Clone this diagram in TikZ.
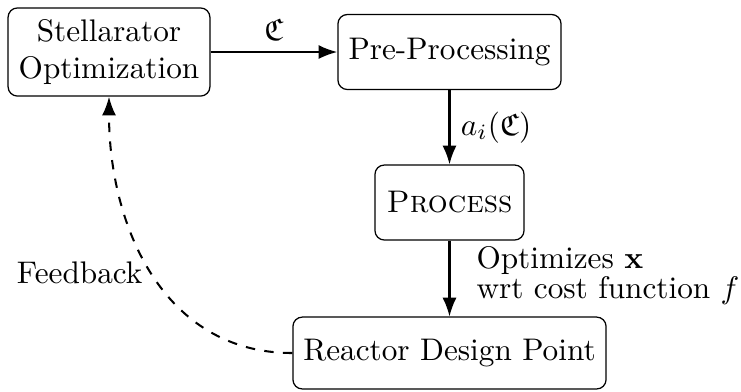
\documentclass[tikz,border=0pt]{standalone}
\usepackage{amsmath,amssymb}
\usetikzlibrary{arrows.meta}
\tikzset{
  block/.style={draw, thin, rounded corners=3pt, align=center, inner sep=3.33pt},
  flow/.style={line width=0.65pt, -{Latex[length=6pt,width=4.5pt]}},
  back/.style={line width=0.65pt, dashed, -{Latex[length=6pt,width=4.5pt]}},
}
\begin{document}
\begin{tikzpicture}[x=0.32pt, y=-0.32pt]
  \useasboundingbox (0,0) rectangle (741,391);

  % process blocks
  \node[block, minimum width=64.6pt, minimum height=28.2pt] (stell) at (109,52)
    {Stellarator\\Optimization};
  \node[block, minimum width=71.4pt, minimum height=24pt] (pre) at (449.5,52)
    {Pre-Processing};
  \node[block, minimum width=47.7pt, minimum height=24pt] (proc) at (449.5,202.5)
    {\textsc{Process}};
  \node[block, minimum width=99.8pt, minimum height=23pt] (rdp) at (449.5,353)
    {Reactor Design Point};

  % forward flow
  \draw[flow] (stell) -- node[above] (lc) {$\mathfrak{C}$} (pre);
  \draw[flow] (pre) -- node[right] (la) {$a_i(\mathfrak{C})$} (proc);
  \draw[flow] (proc) -- node[anchor=west, xshift=5pt, yshift=1pt, align=left] (lo)
    {Optimizes $\mathbf{x}$\\[-2.4pt]wrt cost function $f$} (rdp);

  % feedback loop
  \draw[back] (rdp.west) to[out=180, in=-90, looseness=1.05]
    node[pos=0.5, left, xshift=0.5pt, yshift=0pt] (lf) {Feedback} (stell.south);
\end{tikzpicture}
\end{document}
